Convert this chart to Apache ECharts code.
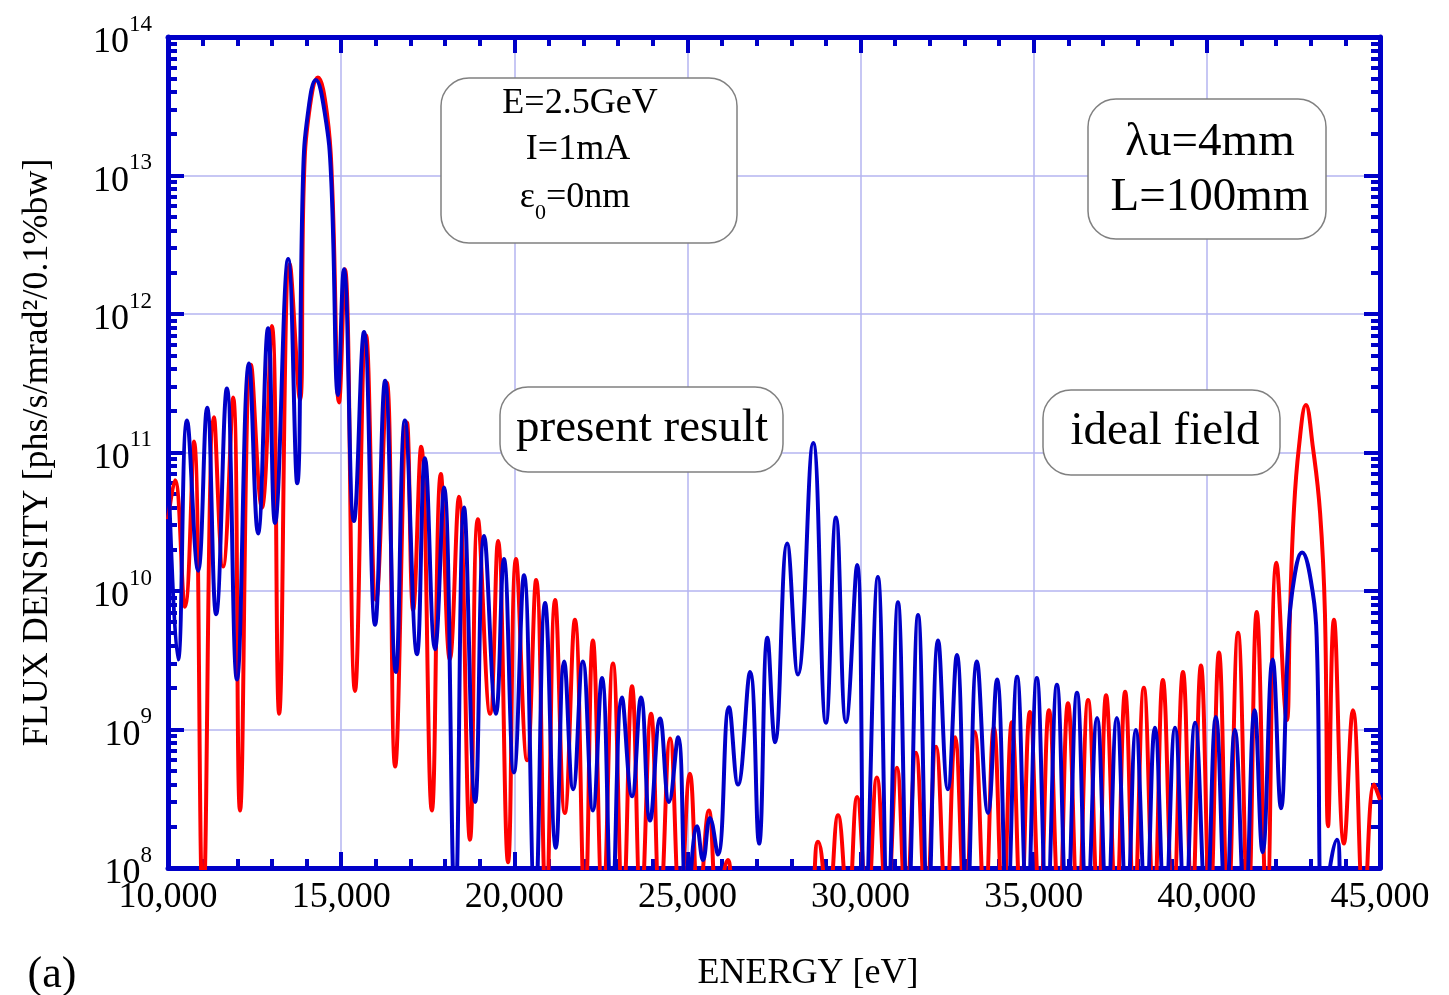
<!DOCTYPE html>
<html>
<head>
<meta charset="utf-8">
<script src="https://cdn.jsdelivr.net/npm/echarts@6/dist/echarts.min.js"></script>
<style>
html, body { margin: 0; padding: 0; background: #fff; }
#chart { width: 1449px; height: 995px; }
</style>
</head>
<body>
<div id="chart"></div>
<script>
// x ticks every 5000 eV, y decades
var energyTicks = [10000, 15000, 20000, 25000, 30000, 35000, 40000, 45000];
var decades = [1e8, 1e9, 1e10, 1e11, 1e12, 1e13, 1e14];
var minorSteps = [2, 3, 4, 5, 6, 7, 8, 9];

// ideal field (red) [energy eV, flux]
var idealField = [
    [10000, 3.3e10], [10200, 6.3e10], [10490, 7.7e9], [10750, 1.2e11], [11010, 5e7],
    [11330, 1.8e11], [11590, 1.5e10], [11880, 2.5e11], [12080, 2.6e8], [12400, 4.3e11],
    [12710, 4.0e10], [13000, 8.2e11], [13210, 1.3e9], [13520, 2.3e12], [13810, 2.4e11],
    [13920, 8.5e12], [14070, 2.8e13], [14330, 5.1e13], [14590, 2.8e13], [14740, 8.5e12],
    [14940, 2.3e11], [15110, 2.1e12], [15400, 1.9e9], [15720, 7.0e11], [16010, 8.6e9],
    [16320, 3.2e11], [16560, 5.4e8], [16900, 1.65e11], [17080, 7.3e9], [17310, 1.1e11],
    [17620, 2.6e8], [17880, 7.0e10], [18140, 3.2e9], [18400, 4.8e10], [18720, 1.6e8],
    [18950, 3.3e10], [19300, 1.3e9], [19530, 2.3e10], [19820, 1.1e8], [20050, 1.7e10],
    [20370, 6.0e8], [20630, 1.2e10], [20920, 5e7], [21180, 8.6e9], [21460, 2.5e8],
    [21750, 6.2e9], [22040, 5e7], [22270, 4.4e9], [22560, 5e7], [22850, 3.0e9],
    [23140, 5e7], [23400, 2.05e9], [23660, 5e7], [23950, 1.3e9], [24210, 5e7],
    [24500, 8.6e8], [24790, 5e7], [25070, 4.8e8], [25330, 5e7], [25620, 2.6e8],
    [25880, 5e7], [26170, 1.14e8], [26460, 5e7], [28400, 5e7], [28770, 1.55e8],
    [29060, 5e7], [29350, 2.4e8], [29640, 5e7], [29900, 3.26e8], [30190, 5e7],
    [30470, 4.5e8], [30760, 5e7], [31050, 5.3e8], [31310, 5e7], [31600, 6.8e8],
    [31890, 5e7], [32180, 7.5e8], [32470, 5e7], [32730, 8.8e8], [33020, 5e7],
    [33300, 9.6e8], [33590, 5e7], [33850, 1.04e9], [34110, 5e7], [34370, 1.13e9],
    [34630, 5e7], [34890, 1.34e9], [35180, 5e7], [35440, 1.38e9], [35730, 5e7],
    [35990, 1.55e9], [36280, 5e7], [36570, 1.63e9], [36860, 5e7], [37090, 1.77e9],
    [37380, 5e7], [37640, 1.87e9], [37900, 5e7], [38180, 2.0e9], [38470, 5e7],
    [38730, 2.28e9], [39020, 5e7], [39310, 2.6e9], [39570, 5e7], [39830, 2.9e9],
    [40090, 5e7], [40350, 3.6e9], [40610, 5e7], [40900, 5.0e9], [41190, 5e7],
    [41440, 7.05e9], [41730, 5e7], [42010, 1.6e10], [42310, 1.17e9], [42400, 6.9e9],
    [42510, 3.66e10], [42660, 1.1e11], [42860, 2.2e11], [43060, 1.1e11], [43270, 3.66e10],
    [43410, 6.9e9], [43500, 2.0e8], [43670, 6.2e9], [43960, 1.5e8], [44220, 1.38e9],
    [44540, 5e7], [44830, 4.0e8], [45000, 3.1e8]
];

// present result (blue) [energy eV, flux]
var presentResult = [
    [10000, 8.8e10], [10290, 3.2e9], [10550, 1.7e11], [10870, 1.4e10], [11130, 2.1e11],
    [11390, 6.8e9], [11700, 2.9e11], [11990, 2.3e9], [12340, 4.4e11], [12600, 2.6e10],
    [12890, 7.9e11], [13090, 3.1e10], [13470, 2.5e12], [13730, 6.0e10], [13900, 9.8e12],
    [14040, 2.8e13], [14270, 4.9e13], [14530, 2.8e13], [14710, 9.8e12], [14910, 2.6e11],
    [15080, 2.1e12], [15370, 3.2e10], [15660, 7.4e11], [15980, 5.7e9], [16270, 3.3e11],
    [16580, 2.6e9], [16840, 1.7e11], [17190, 3.5e9], [17420, 9.1e10], [17710, 3.8e9],
    [17970, 5.6e10], [18290, 5e7], [18550, 4.0e10], [18870, 3.0e8], [19130, 2.5e10],
    [19470, 1.3e9], [19700, 1.7e10], [19990, 4.9e8], [20280, 1.3e10], [20600, 5e7],
    [20890, 8.2e9], [21200, 1.4e8], [21440, 3.1e9], [21700, 3.7e8], [21980, 3.1e9],
    [22270, 2.6e8], [22530, 2.35e9], [22820, 5e7], [23110, 1.7e9], [23400, 3.3e8],
    [23660, 1.7e9], [23920, 2.2e8], [24210, 1.2e9], [24470, 3.0e8], [24730, 8.8e8],
    [24990, 5e7], [25280, 2.0e8], [25450, 1.14e8], [25650, 2.3e8], [25880, 1.25e8],
    [26200, 1.45e9], [26460, 4.0e8], [26810, 2.6e9], [27070, 1.5e8], [27310, 4.6e9],
    [27530, 8.1e8], [27880, 2.2e10], [28190, 2.5e9], [28630, 1.17e11], [29000, 1.12e9],
    [29290, 3.4e10], [29580, 1.13e9], [29900, 1.54e10], [30130, 5e7], [30500, 1.26e10],
    [30790, 5e7], [31080, 8.3e9], [31370, 5e7], [31660, 6.7e9], [31950, 5e7],
    [32240, 4.4e9], [32520, 3.7e8], [32780, 3.45e9], [33070, 5e7], [33360, 3.1e9],
    [33680, 2.5e8], [33940, 2.3e9], [34230, 5e7], [34520, 2.4e9], [34810, 5e7],
    [35090, 2.35e9], [35380, 5e7], [35670, 2.1e9], [35960, 5e7], [36250, 1.84e9],
    [36540, 5e7], [36830, 1.21e9], [37120, 5e7], [37400, 1.21e9], [37690, 5e7],
    [37950, 9.9e8], [38240, 5e7], [38500, 1.03e9], [38790, 5e7], [39080, 1.03e9],
    [39370, 5e7], [39660, 1.12e9], [39980, 5e7], [40260, 1.23e9], [40550, 5e7],
    [40810, 9.9e8], [41100, 5e7], [41380, 1.38e9], [41610, 1.3e8], [41900, 3.2e9],
    [42140, 2.7e8], [42340, 3.9e9], [42460, 9.7e9], [42750, 1.9e10], [43060, 9.7e9],
    [43180, 3.9e9], [43350, 5e7], [43760, 1.6e8], [43960, 5e7], [45000, 5e7]
];

var minorValues = [];
decades.slice(0, -1).forEach(function (d) {
    minorSteps.forEach(function (m) { minorValues.push(m * d); });
});

// repeat each local minimum so the smoothed line keeps a sharp cusp there
function withCusps(data) {
    var out = [];
    data.forEach(function (p, i) {
        out.push(p);
        var prev = data[i - 1], next = data[i + 1];
        if (prev && next && p[1] < prev[1] && p[1] < next[1]) {
            out.push([p[0], p[1]]);
        }
    });
    return out;
}

var BLUE = '#0000c8';
var RED = '#ff0000';
var GRIDC = '#b4b4f0';
var SERIF = '"Liberation Serif", "DejaVu Serif", serif';

var dom = document.getElementById('chart');
var myChart = echarts.init(dom);

function yAxisBase(pos) {
    return {
        type: 'log',
        logBase: 10,
        min: 1e8,
        max: 1e14,
        position: pos,
        axisLine: { show: true, onZero: false, lineStyle: { color: BLUE, width: 5 } },
        axisTick: { show: true, inside: true, length: 16, lineStyle: { color: BLUE, width: 4 } },
        axisLabel: { show: false },
        splitLine: { show: false }
    };
}

function yMinorAxis(pos) {
    return {
        type: 'log',
        logBase: 10,
        min: 1e8,
        max: 1e14,
        position: pos,
        axisLine: { show: false },
        axisTick: { show: true, inside: true, length: 9, customValues: minorValues,
            lineStyle: { color: BLUE, width: 4 } },
        axisLabel: { show: false },
        splitLine: { show: false }
    };
}

function xAxisBase(pos) {
    return {
        type: 'value',
        min: 10000,
        max: 45000,
        interval: 5000,
        position: pos,
        axisLine: { show: true, onZero: false, lineStyle: { color: BLUE, width: 5 } },
        axisTick: { show: true, inside: true, length: 16, lineStyle: { color: BLUE, width: 4 } },
        minorTick: { show: true, splitNumber: 5, length: 9, lineStyle: { color: BLUE, width: 4 } },
        axisLabel: { show: false },
        splitLine: { show: false }
    };
}

var xBottom = xAxisBase('bottom');
xBottom.axisLabel = {
    show: true, margin: 12, color: '#000', fontSize: 36, fontFamily: SERIF,
    formatter: function (v) { return v.toLocaleString('en-US'); }
};
xBottom.splitLine = { show: true, lineStyle: { color: GRIDC, width: 1.5 } };
xBottom.name = 'ENERGY [eV]';
xBottom.nameLocation = 'middle';
xBottom.nameGap = 88;
xBottom.nameTextStyle = { color: '#000', fontSize: 36, fontFamily: SERIF, padding: [0, 0, 0, 68] };

var yLeft = yAxisBase('left');
yLeft.axisLabel = {
    show: true, margin: 16,
    formatter: function (v) {
        var e = Math.round(Math.log(v) / Math.LN10);
        return '{b|10}{e|' + e + '}';
    },
    rich: {
        b: { fontSize: 36, fontFamily: SERIF, color: '#000', verticalAlign: 'bottom', lineHeight: 48 },
        e: { fontSize: 23, fontFamily: SERIF, color: '#000', verticalAlign: 'top', lineHeight: 48 }
    }
};
yLeft.splitLine = { show: true, lineStyle: { color: GRIDC, width: 1.5 } };
yLeft.name = 'FLUX DENSITY [phs/s/mrad\u00b2/0.1%bw]';
yLeft.nameLocation = 'middle';
yLeft.nameGap = 112;
yLeft.nameTextStyle = { color: '#000', fontSize: 36, fontFamily: SERIF };

option = {
    backgroundColor: '#fff',
    animation: false,
    grid: { left: 168, right: 69, top: 37, bottom: 127, containLabel: false, outerBoundsMode: 'none' },
    xAxis: [xBottom, xAxisBase('top')],
    yAxis: [yLeft, yAxisBase('right'), yMinorAxis('left'), yMinorAxis('right')],
    series: [
        {
            name: 'ideal field',
            type: 'line',
            data: withCusps(idealField),
            showSymbol: false,
            smooth: 0.45,
            clip: true,
            z: 3,
            lineStyle: { color: RED, width: 4 },
            itemStyle: { color: RED }
        },
        {
            name: 'present result',
            type: 'line',
            data: withCusps(presentResult),
            showSymbol: false,
            smooth: 0.45,
            clip: true,
            z: 4,
            lineStyle: { color: BLUE, width: 4 },
            itemStyle: { color: BLUE }
        }
    ],
    graphic: [
        { type: 'rect', z: 100, shape: { x: 441, y: 78, width: 296, height: 165, r: 28 },
          style: { fill: '#fff', stroke: '#808080', lineWidth: 1.5 } },
        { type: 'text', z: 101, x: 580, y: 104,
          style: { text: 'E=2.5GeV', font: '36px ' + SERIF, fill: '#000', align: 'center', verticalAlign: 'middle' } },
        { type: 'text', z: 101, x: 578, y: 150,
          style: { text: 'I=1mA', font: '36px ' + SERIF, fill: '#000', align: 'center', verticalAlign: 'middle' } },
        { type: 'text', z: 101, x: 575, y: 202,
          style: { text: '{a|\u03b5}{s|0}{a|=0nm}', align: 'center', verticalAlign: 'middle',
            rich: {
                a: { fontSize: 36, fontFamily: SERIF, color: '#000', verticalAlign: 'top', lineHeight: 44 },
                s: { fontSize: 22, fontFamily: SERIF, color: '#000', verticalAlign: 'bottom', lineHeight: 44 }
            } } },

        { type: 'rect', z: 100, shape: { x: 1088, y: 99, width: 238, height: 140, r: 28 },
          style: { fill: '#fff', stroke: '#808080', lineWidth: 1.5 } },
        { type: 'text', z: 101, x: 1210, y: 143,
          style: { text: '\u03bbu=4mm', font: '47px ' + SERIF, fill: '#000', align: 'center', verticalAlign: 'middle' } },
        { type: 'text', z: 101, x: 1210, y: 198,
          style: { text: 'L=100mm', font: '47px ' + SERIF, fill: '#000', align: 'center', verticalAlign: 'middle' } },

        { type: 'rect', z: 100, shape: { x: 500, y: 387, width: 283, height: 85, r: 28 },
          style: { fill: '#fff', stroke: '#808080', lineWidth: 1.5 } },
        { type: 'text', z: 101, x: 642, y: 429,
          style: { text: 'present result', font: '47px ' + SERIF, fill: '#000', align: 'center', verticalAlign: 'middle' } },

        { type: 'rect', z: 100, shape: { x: 1043, y: 390, width: 237, height: 85, r: 28 },
          style: { fill: '#fff', stroke: '#808080', lineWidth: 1.5 } },
        { type: 'text', z: 101, x: 1165, y: 432,
          style: { text: 'ideal field', font: '47px ' + SERIF, fill: '#000', align: 'center', verticalAlign: 'middle' } },

        { type: 'text', z: 101, x: 52, y: 975,
          style: { text: '(a)', font: '44px ' + SERIF, fill: '#000', align: 'center', verticalAlign: 'middle' } }
    ]
};

if (option && typeof option === 'object') {
    myChart.setOption(option, true);
}
</script>
</body>
</html>
